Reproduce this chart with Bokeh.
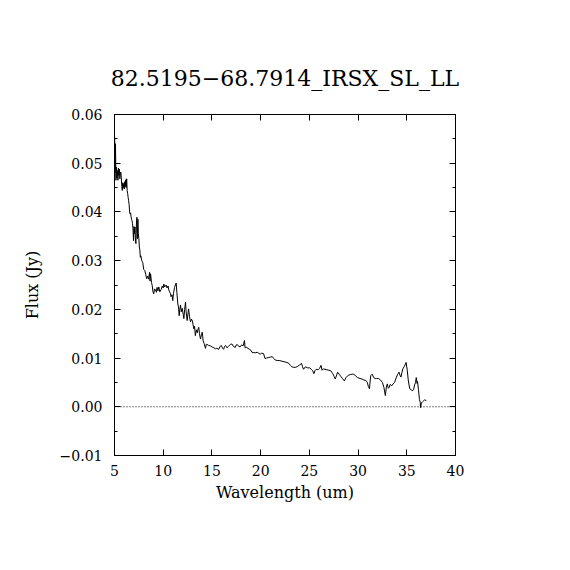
from bokeh.plotting import figure
from bokeh.models import (LinearAxis, SingleIntervalTicker, CustomJSTickFormatter, Span, Range1d,
                          CustomLabelingPolicy)
from bokeh.embed import file_html
from bokeh.resources import INLINE

title_text = "82.5195\u221268.7914_IRSX_SL_LL"
x_label = "Wavelength (um)"
y_label = "Flux (Jy)"

wavelength = [
    5.02, 5.05, 5.1, 5.15, 5.2, 5.25, 5.3, 5.35, 5.4, 5.45, 5.5, 5.55, 5.6, 5.65, 5.7, 5.75,
    5.8, 5.85, 5.9, 5.95, 6.0, 6.05, 6.1, 6.15, 6.2, 6.25, 6.3, 6.35, 6.4, 6.45, 6.5, 6.55,
    6.6, 6.65, 6.7, 6.75, 6.8, 6.85, 6.9, 6.95, 7.0, 7.05, 7.1, 7.15, 7.2, 7.25, 7.3, 7.35,
    7.4, 7.45, 7.5, 7.55, 7.6, 7.65, 7.7, 7.8, 7.9, 8.0, 8.1, 8.2, 8.3, 8.4, 8.5, 8.6,
    8.65, 8.7, 8.8, 8.87, 8.95, 9.03, 9.1, 9.2, 9.3, 9.37, 9.45, 9.55, 9.65, 9.8, 9.9, 10.0,
    10.06, 10.15, 10.3, 10.4, 10.5, 10.57, 10.65, 10.75, 10.8, 10.9, 10.98, 11.05, 11.16, 11.25, 11.33, 11.4,
    11.5, 11.57, 11.64, 11.7, 11.78, 11.85, 11.95, 12.05, 12.12, 12.2, 12.29, 12.35, 12.46, 12.55, 12.6, 12.7,
    12.8, 12.9, 13.0, 13.07, 13.14, 13.22, 13.3, 13.4, 13.5, 13.58, 13.65, 13.72, 13.83, 13.92, 14.0, 14.05,
    14.1, 14.2, 14.34, 14.42, 14.5, 14.65, 14.85, 15.0, 15.2, 15.37, 15.5, 15.7, 15.85, 15.95, 16.1, 16.2,
    16.3, 16.4, 16.55, 16.7, 16.9, 17.05, 17.2, 17.4, 17.5, 17.6, 17.75, 17.9, 18.05, 18.2, 18.34, 18.4,
    18.55, 18.7, 18.85, 19.0, 19.1, 19.3, 19.5, 19.65, 19.8, 19.95, 20.1, 20.3, 20.45, 20.6, 20.8, 21.0,
    21.2, 21.35, 21.5, 21.7, 21.9, 22.1, 22.3, 22.5, 22.7, 22.9, 23.05, 23.2, 23.4, 23.6, 23.8, 24.0,
    24.2, 24.3, 24.4, 24.6, 24.8, 25.0, 25.2, 25.35, 25.46, 25.6, 25.7, 25.9, 26.05, 26.2, 26.3, 26.45,
    26.6, 26.8, 27.0, 27.2, 27.4, 27.55, 27.66, 27.8, 27.9, 28.05, 28.2, 28.4, 28.6, 28.75, 28.9, 29.05,
    29.2, 29.4, 29.56, 29.75, 29.95, 30.2, 30.4, 30.6, 30.8, 30.95, 31.05, 31.17, 31.25, 31.3, 31.45, 31.6,
    31.75, 31.9, 32.1, 32.3, 32.5, 32.65, 32.8, 32.9, 33.0, 33.1, 33.2, 33.3, 33.45, 33.6, 33.75, 33.94,
    34.05, 34.2, 34.3, 34.4, 34.5, 34.6, 34.75, 34.93, 35.05, 35.15, 35.3, 35.45, 35.55, 35.7, 35.8, 35.9,
    35.97, 36.05, 36.1, 36.2, 36.3, 36.38, 36.42, 36.5, 36.6, 36.7, 36.82, 37.0,
]

flux = [
    0.0553, 0.0480, 0.0540, 0.0465, 0.0492, 0.0470, 0.0485, 0.0465, 0.0490, 0.0475, 0.0488, 0.0468, 0.0480, 0.0482, 0.0470, 0.0452,
    0.0444, 0.0460, 0.0450, 0.0458, 0.0447, 0.0462, 0.0452, 0.0466, 0.0450, 0.0468, 0.0444, 0.0438, 0.0430, 0.0423, 0.0415, 0.0400,
    0.0396, 0.0398, 0.0390, 0.0385, 0.0382, 0.0376, 0.0365, 0.0341, 0.0370, 0.0355, 0.0369, 0.0340, 0.0335, 0.0375, 0.0389, 0.0345,
    0.0385, 0.0355, 0.0345, 0.0328, 0.0322, 0.0307, 0.0310, 0.0300, 0.0296, 0.0282, 0.0280, 0.0272, 0.0263, 0.0268, 0.0262, 0.0276,
    0.0258, 0.0273, 0.0255, 0.0249, 0.0236, 0.0232, 0.0242, 0.0240, 0.0235, 0.0245, 0.0238, 0.0246, 0.0236, 0.0241, 0.0248, 0.0244,
    0.0252, 0.0246, 0.0250, 0.0244, 0.0248, 0.0240, 0.0236, 0.0232, 0.0226, 0.0230, 0.0218, 0.0232, 0.0245, 0.0250, 0.0254, 0.0235,
    0.0211, 0.0205, 0.0187, 0.0200, 0.0209, 0.0195, 0.0202, 0.0190, 0.0181, 0.0200, 0.0215, 0.0195, 0.0177, 0.0192, 0.0201, 0.0185,
    0.0174, 0.0180, 0.0176, 0.0168, 0.0160, 0.0165, 0.0146, 0.0158, 0.0152, 0.0160, 0.0163, 0.0150, 0.0139, 0.0148, 0.0153, 0.0145,
    0.0135, 0.0130, 0.0120, 0.0128, 0.0128, 0.0126, 0.0125, 0.0123, 0.0121, 0.0119, 0.0120, 0.0118, 0.0124, 0.0126, 0.0120, 0.0118,
    0.0124, 0.0126, 0.0121, 0.0124, 0.0128, 0.0129, 0.0124, 0.0122, 0.0127, 0.0128, 0.0124, 0.0123, 0.0127, 0.0125, 0.0136, 0.0121,
    0.0122, 0.0120, 0.0118, 0.0116, 0.0112, 0.0111, 0.0111, 0.0112, 0.0110, 0.0108, 0.0110, 0.0109, 0.0099, 0.0100, 0.0101, 0.0102,
    0.0103, 0.0099, 0.0096, 0.0095, 0.0095, 0.0094, 0.0093, 0.0092, 0.0091, 0.0089, 0.0085, 0.0082, 0.0081, 0.0081, 0.0083, 0.0086,
    0.0089, 0.0082, 0.0077, 0.0082, 0.0080, 0.0080, 0.0077, 0.0074, 0.0068, 0.0075, 0.0077, 0.0076, 0.0079, 0.0085, 0.0075, 0.0078,
    0.0077, 0.0076, 0.0075, 0.0074, 0.0068, 0.0062, 0.0057, 0.0065, 0.0071, 0.0067, 0.0063, 0.0058, 0.0053, 0.0060, 0.0063, 0.0065,
    0.0066, 0.0067, 0.0067, 0.0063, 0.0060, 0.0058, 0.0057, 0.0055, 0.0054, 0.0050, 0.0042, 0.0037, 0.0055, 0.0064, 0.0067, 0.0060,
    0.0058, 0.0058, 0.0058, 0.0055, 0.0050, 0.0040, 0.0023, 0.0040, 0.0047, 0.0038, 0.0040, 0.0046, 0.0043, 0.0047, 0.0050, 0.0061,
    0.0066, 0.0071, 0.0065, 0.0061, 0.0070, 0.0078, 0.0083, 0.0091, 0.0075, 0.0055, 0.0037, 0.0035, 0.0033, 0.0035, 0.0045, 0.0050,
    0.0060, 0.0048, 0.0052, 0.0035, 0.0015, 0.0009, -0.0002, 0.0008, 0.0010, 0.0012, 0.0014, 0.0013,
]

FONT = "DejaVu Serif"

p = figure(width=562, height=562, x_range=Range1d(5, 40), y_range=Range1d(-0.01, 0.06),
           output_backend="svg", toolbar_location=None,
           min_border_left=114, min_border_right=107, min_border_top=114, min_border_bottom=107,
           title=title_text)
p.background_fill_color = "white"
p.border_fill_color = "white"
p.outline_line_color = "black"
p.outline_line_width = 1
p.grid.visible = False

p.title.align = "center"
p.title.text_font = FONT
p.title.text_font_size = "22px"
p.title.text_font_style = "normal"
p.title.text_color = "black"
p.title.standoff = 19

fmt_y = CustomJSTickFormatter(code="""
if (Math.abs(tick) < 1e-9) { return "0.00"; }
return (tick < 0 ? "\\u2212" : "") + Math.abs(tick).toFixed(2);
""")

no_labels = CustomLabelingPolicy(code="for (const i of indices) { if (i < 0) { yield i } }")


def style(ax, ticker, labels=True):
    ax.ticker = ticker
    ax.major_tick_in = 6
    ax.major_tick_out = 0
    ax.minor_tick_in = 3
    ax.minor_tick_out = 0
    ax.axis_line_color = "black"
    ax.major_tick_line_color = "black"
    ax.minor_tick_line_color = "black"
    ax.major_label_text_font = FONT
    ax.major_label_text_color = "black"
    ax.major_label_text_font_size = "14px"
    if not labels:
        ax.major_label_policy = no_labels
        ax.major_label_standoff = 0


xb = p.xaxis[0]
style(xb, SingleIntervalTicker(interval=5, num_minor_ticks=0))
xb.major_label_standoff = 9
xb.axis_label = x_label
xb.axis_label_text_font = FONT
xb.axis_label_text_font_size = "16px"
xb.axis_label_text_font_style = "normal"
xb.axis_label_text_color = "black"
xb.axis_label_standoff = 4

yl = p.yaxis[0]
style(yl, SingleIntervalTicker(interval=0.01, num_minor_ticks=2))
yl.formatter = fmt_y
yl.major_label_standoff = 12
yl.axis_label = y_label
yl.axis_label_text_font = FONT
yl.axis_label_text_font_size = "16px"
yl.axis_label_text_font_style = "normal"
yl.axis_label_text_color = "black"
yl.axis_label_standoff = 15

xt = LinearAxis()
style(xt, SingleIntervalTicker(interval=5, num_minor_ticks=0), labels=False)
p.add_layout(xt, "above")

yr = LinearAxis()
style(yr, SingleIntervalTicker(interval=0.01, num_minor_ticks=2), labels=False)
p.add_layout(yr, "right")

p.add_layout(Span(location=0, dimension="width", line_color="black", line_width=1, line_dash="1 2"))

p.line(wavelength, flux, line_color="black", line_width=1)

open("out.html", "w").write(file_html(p, INLINE))
